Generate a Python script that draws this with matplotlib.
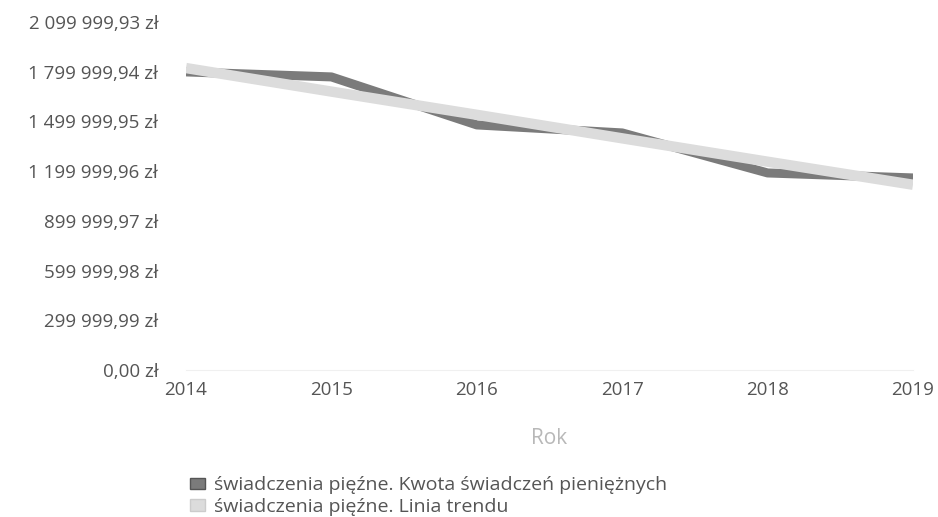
import matplotlib
matplotlib.use("Agg")
import matplotlib.pyplot as plt
from matplotlib.patches import Patch

plt.rcParams['font.family'] = ['Open Sans', 'DejaVu Sans']

# dane
lata = [2014, 2015, 2016, 2017, 2018, 2019]
kwota = [1798800, 1768600, 1478900, 1430600, 1189100, 1159000]
trend = [1822000, 1680000, 1540000, 1398000, 1257000, 1118000]
y_ticks = [0, 299999.99, 599999.98, 899999.97, 1199999.96, 1499999.95,
           1799999.94, 2099999.93]
y_labels = ["0,00 zł", "299 999,99 zł", "599 999,98 zł", "899 999,97 zł",
            "1 199 999,96 zł", "1 499 999,95 zł", "1 799 999,94 zł",
            "2 099 999,93 zł"]
seria1 = "świadczenia pięźne. Kwota świadczeń pieniężnych"
seria2 = "świadczenia pięźne. Linia trendu"

kolor_ciemny = "#7b7b7b"
kolor_jasny = "#dcdcdc"
kolor_tekstu = "#555555"

fig = plt.figure(figsize=(9.38, 5.17), dpi=100)
ax = fig.add_axes([186/938, 147/517, 727/938, 348/517])

ax.plot(lata, kwota, color=kolor_ciemny, lw=6.5, solid_capstyle='butt', zorder=2)
ax.plot(lata, trend, color=kolor_jasny, lw=7.5, solid_capstyle='butt', zorder=3)

ax.set_xlim(2014, 2019)
ax.set_ylim(0, 2099999.93)
ax.set_yticks(y_ticks)
ax.set_yticklabels(y_labels)
ax.set_xticks(lata)
ax.set_xticklabels([str(r) for r in lata])

for s in ["top", "right", "left"]:
    ax.spines[s].set_visible(False)
ax.spines["bottom"].set_color("#f0f0f0")
ax.tick_params(axis='both', length=0, colors=kolor_tekstu, labelsize=13.5)
ax.tick_params(axis='y', pad=20)
ax.tick_params(axis='x', pad=8)

ax.set_xlabel("Rok", color="#b8b8b8", fontsize=15, labelpad=21)

uchwyty = [Patch(facecolor=kolor_ciemny, edgecolor="#555555"),
           Patch(facecolor=kolor_jasny, edgecolor="#cccccc")]
fig.legend(uchwyty, [seria1, seria2], loc="upper left",
           bbox_to_anchor=(190/938, 1 - 476/517), frameon=False,
           fontsize=14, handlelength=0.75, handleheight=0.5,
           handletextpad=0.5, labelspacing=0.2, labelcolor=kolor_tekstu,
           borderpad=0, borderaxespad=0)

fig.savefig("out.png", dpi=100)
